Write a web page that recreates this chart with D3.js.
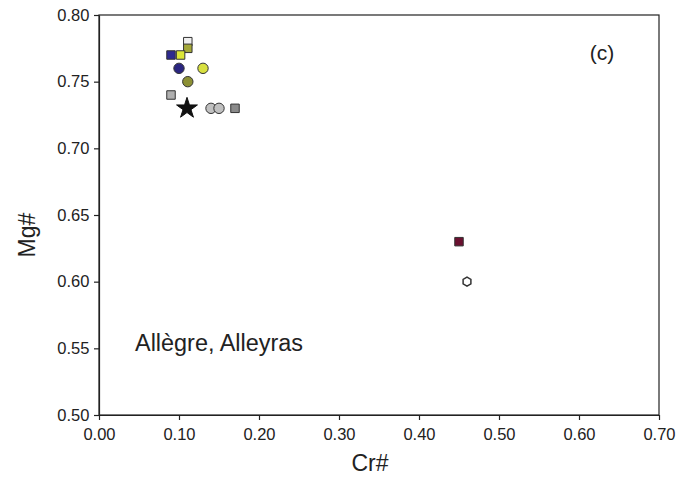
<!DOCTYPE html>
<html><head><meta charset="utf-8">
<script src="https://cdn.jsdelivr.net/npm/d3@7"></script>
<style>body{margin:0;background:#fff;} text{font-family:"Liberation Sans",Arial,sans-serif;}</style>
</head><body>
<svg id="c" width="685" height="491"></svg>
<script>
const xTicks = [0,0.1,0.2,0.3,0.4,0.5,0.6,0.7];
const yTicks = [0.50,0.55,0.60,0.65,0.70,0.75,0.80];
// series: [Cr#, Mg#]
const navySquare = [[0.09,0.77]];
const yellowSquare = [[0.102,0.77]];
const oliveSquare = [[0.111,0.775]];
const whiteSquare = [[0.111,0.78]];
const navyCircle = [[0.10,0.76]];
const yellowCircle = [[0.13,0.76]];
const oliveCircle = [[0.111,0.75]];
const graySquare = [[0.09,0.74]];
const blackStar = [[0.11,0.73]];
const grayCircle = [[0.14,0.73],[0.15,0.73]];
const darkGraySquare = [[0.17,0.73]];
const redSquare = [[0.45,0.63]];
const openHexagon = [[0.46,0.60]];

const series = [
  {d: graySquare, shape:"square", fill:"#b0b0b0"},
  {d: whiteSquare, shape:"square", fill:"#f0f0f0"},
  {d: oliveSquare, shape:"square", fill:"#a4a83a"},
  {d: navySquare, shape:"square", fill:"#2e2a90"},
  {d: yellowSquare, shape:"square", fill:"#dce636"},
  {d: navyCircle, shape:"circle", fill:"#2a2580"},
  {d: yellowCircle, shape:"circle", fill:"#d8e040"},
  {d: oliveCircle, shape:"circle", fill:"#8c9034"},
  {d: grayCircle, shape:"circle", fill:"#c0c0c0"},
  {d: darkGraySquare, shape:"square", fill:"#8a8a8a"},
  {d: blackStar, shape:"star", fill:"#111"},
  {d: redSquare, shape:"square", fill:"#6a1030"},
  {d: openHexagon, shape:"hex", fill:"#fff"}
];

const svg = d3.select("#c");
const L=99, R=659, T=15, B=415;
const x = d3.scaleLinear().domain([0,0.7]).range([L,R]);
const y = d3.scaleLinear().domain([0.5,0.8]).range([B,T]);

svg.append("rect").attr("x",L).attr("y",T).attr("width",R-L).attr("height",B-T)
  .attr("fill","none").attr("stroke","#222").attr("stroke-width",1.2);

const xa = svg.append("g").attr("transform",`translate(0,${B})`)
  .call(d3.axisBottom(x).tickValues(xTicks).tickFormat(d3.format(".2f")).tickSize(5).tickSizeOuter(0));
const ya = svg.append("g").attr("transform",`translate(${L},0)`)
  .call(d3.axisLeft(y).tickValues(yTicks).tickFormat(d3.format(".2f")).tickSize(5).tickSizeOuter(0));
[xa,ya].forEach(a=>{
  a.select(".domain").attr("stroke","#222").attr("stroke-width",1.2);
  a.selectAll(".tick line").attr("stroke","#222").attr("stroke-width",1.2);
  a.selectAll(".tick text").attr("font-size",16.5).attr("fill","#222")
   .attr("font-family","'Liberation Sans',Arial,sans-serif");
});
xa.selectAll(".tick text").attr("dy","1.05em");
ya.selectAll(".tick text").attr("dx","-0.1em");

svg.append("text").attr("x",370).attr("y",471).attr("text-anchor","middle")
  .attr("font-size",23).attr("fill","#222").text("Cr#");
svg.append("text").attr("transform",`translate(35,235) rotate(-90)`).attr("text-anchor","middle")
  .attr("font-size",23).attr("fill","#222").text("Mg#");
svg.append("text").attr("x",602).attr("y",60).attr("text-anchor","middle")
  .attr("font-size",21).attr("fill","#222").text("(c)");
svg.append("text").attr("x",135).attr("y",351)
  .attr("font-size",23.5).attr("fill","#222")
  .attr("textLength",168).attr("lengthAdjust","spacingAndGlyphs").text("Allègre, Alleyras");

const sym = {
  square: d3.symbol().type(d3.symbolSquare).size(72),
  circle: d3.symbol().type(d3.symbolCircle).size(85),
  star: d3.symbol().type(d3.symbolStar).size(135),
};
function hexPath(r){
  const p=d3.range(6).map(i=>{const a=Math.PI/6+i*Math.PI/3;return [r*Math.cos(a),r*Math.sin(a)];});
  return "M"+p.map(q=>q.join(",")).join("L")+"Z";
}
series.forEach(s=>{
  svg.append("g").selectAll("path").data(s.d).join("path")
    .attr("transform",d=>`translate(${x(d[0])},${y(d[1])})`)
    .attr("d", s.shape==="hex" ? hexPath(4.5) : sym[s.shape]())
    .attr("fill",s.fill)
    .attr("stroke", s.shape==="star" ? "#111" : "#333")
    .attr("stroke-width", s.shape==="hex" ? 1.5 : 1);
});
</script>
</body></html>
